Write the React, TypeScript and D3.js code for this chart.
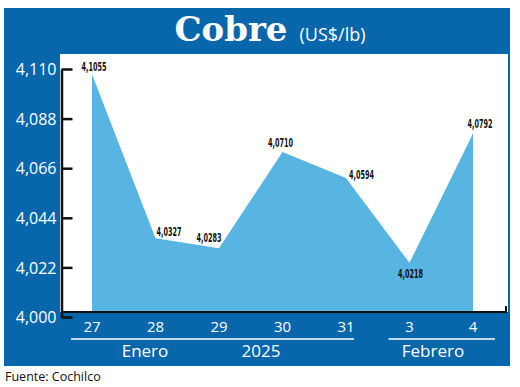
import React, { useEffect, useRef } from "react";
import * as d3 from "d3";

// datos del gráfico
const days = ["27", "28", "29", "30", "31", "3", "4"];
const prices = [4.1055, 4.0327, 4.0283, 4.071, 4.0594, 4.0218, 4.0792];
const yTicks = [4.0, 4.022, 4.044, 4.066, 4.088, 4.11];
const monthGroups = [
  { label: "Enero", from: "27", to: "31" },
  { label: "Febrero", from: "3", to: "4" },
];
const yearLabel = "2025";
const title = "Cobre";
const unit = "(US$/lb)";
const source = "Fuente: Cochilco";

// where each value label sits relative to its point
const labelPlace = [
  { dx: 2, dy: -3, anchor: "middle" },
  { dx: 1, dy: -2, anchor: "start" },
  { dx: -10, dy: -6, anchor: "middle" },
  { dx: -2, dy: -5, anchor: "middle" },
  { dx: 3, dy: 1, anchor: "start" },
  { dx: 1, dy: 15, anchor: "middle" },
  { dx: 7, dy: -5, anchor: "middle" },
];
// extent of the white rule under each month group
const rulePad = [
  { left: 21, right: 8 },
  { left: 21, right: 22 },
];

const DARK = "#0866ab";
const LIGHT = "#58b5e2";

const es = d3.formatLocale({
  decimal: ",",
  thousands: ".",
  grouping: [3],
  currency: ["$", ""],
});

export default function App() {
  const ref = useRef<SVGSVGElement | null>(null);

  useEffect(() => {
    const svg = d3.select(ref.current);
    svg.selectAll("*").remove();

    const W = 520;
    const H = 387;

    // panel de fondo
    svg.append("rect").attr("width", W).attr("height", H).attr("fill", "#fff");
    svg.append("rect")
      .attr("x", 4).attr("y", 8).attr("width", 506).attr("height", 358)
      .attr("fill", DARK);
    svg.append("rect")
      .attr("x", 60).attr("y", 54).attr("width", 448).attr("height", 258)
      .attr("fill", "#fff");

    // titulo
    const t = svg.append("text")
      .attr("x", 270).attr("y", 41)
      .attr("text-anchor", "middle")
      .attr("fill", "#fff");
    t.append("tspan")
      .attr("font-family", "'DejaVu Serif', serif")
      .attr("font-weight", "bold")
      .attr("font-size", 34)
      .text(title);
    t.append("tspan")
      .attr("dx", 12)
      .attr("font-family", "'Open Sans', sans-serif")
      .attr("font-size", 18)
      .text(unit);

    const x = d3.scalePoint<string>().domain(days).range([92, 473]);
    const y = d3.scaleLinear().domain([4.0, 4.11]).range([312, 64]);

    // area
    const area = d3.area<number>()
      .x((_, i) => x(days[i])!)
      .y0(y(4.0))
      .y1((d) => y(d));
    svg.append("path")
      .datum(prices)
      .attr("d", area)
      .attr("fill", LIGHT);

    // eje x
    svg.append("path")
      .attr("d", `M61,${y(4.0)}H506V${y(4.0) - 6}`)
      .attr("fill", "none")
      .attr("stroke", "#111")
      .attr("stroke-width", 2);

    // eje y (drawn a few px lower than the data, as in the original)
    const yAxis = d3.axisLeft(y)
      .tickValues(yTicks)
      .tickSizeInner(-11)
      .tickSizeOuter(0)
      .tickPadding(5)
      .tickFormat(es.format(".3f"));
    const ga = svg.append("g")
      .attr("transform", "translate(61.5,5)")
      .call(yAxis);
    ga.select(".domain").attr("stroke", "#111").attr("stroke-width", 2.5);
    ga.selectAll(".tick line").attr("stroke", "#111").attr("stroke-width", 2.5);
    ga.selectAll(".tick text")
      .attr("fill", "#fff")
      .attr("font-family", "'Open Sans', sans-serif")
      .attr("font-size", 16)
      .attr("dy", "0.35em");

    // etiquetas de dias
    svg.append("g")
      .selectAll("text")
      .data(days)
      .join("text")
      .attr("x", (d) => x(d)!)
      .attr("y", 332)
      .attr("text-anchor", "middle")
      .attr("fill", "#fff")
      .attr("font-family", "'Open Sans', sans-serif")
      .attr("font-size", 15)
      .text((d) => d);

    // meses
    const mg = svg.append("g");
    mg.selectAll("line")
      .data(monthGroups)
      .join("line")
      .attr("x1", (m, i) => x(m.from)! - rulePad[i].left)
      .attr("x2", (m, i) => x(m.to)! + rulePad[i].right)
      .attr("y1", 339).attr("y2", 339)
      .attr("stroke", "#fff").attr("stroke-width", 1.5);
    const monthText = [
      { label: monthGroups[0].label, cx: 145 },
      { label: yearLabel, cx: 261 },
      { label: monthGroups[1].label, cx: 433 },
    ];
    mg.selectAll("text")
      .data(monthText)
      .join("text")
      .attr("x", (d) => d.cx)
      .attr("y", 357)
      .attr("text-anchor", "middle")
      .attr("fill", "#fff")
      .attr("font-family", "'Open Sans', sans-serif")
      .attr("font-size", 17)
      .text((d) => d.label);

    // valores
    svg.append("g")
      .selectAll("text")
      .data(prices)
      .join("text")
      .attr("x", (d, i) => x(days[i])! + labelPlace[i].dx)
      .attr("y", (d, i) => y(d) + labelPlace[i].dy)
      .attr("text-anchor", (d, i) => labelPlace[i].anchor)
      .attr("fill", "#111")
      .attr("font-family", "'DejaVu Sans Condensed', 'Liberation Sans Narrow', sans-serif")
      .attr("font-weight", "bold")
      .attr("font-size", 12)
      .attr("textLength", 25)
      .attr("lengthAdjust", "spacingAndGlyphs")
      .text((d) => es.format(".4f")(d));

    // fuente
    svg.append("text")
      .attr("x", 5).attr("y", 381)
      .attr("fill", "#111")
      .attr("font-family", "'Open Sans', sans-serif")
      .attr("font-size", 12.5)
      .text(source);
  }, []);

  return (
    <svg
      ref={ref}
      width={520}
      height={387}
      style={{ position: "absolute", left: 0, top: 0, display: "block" }}
    />
  );
}
